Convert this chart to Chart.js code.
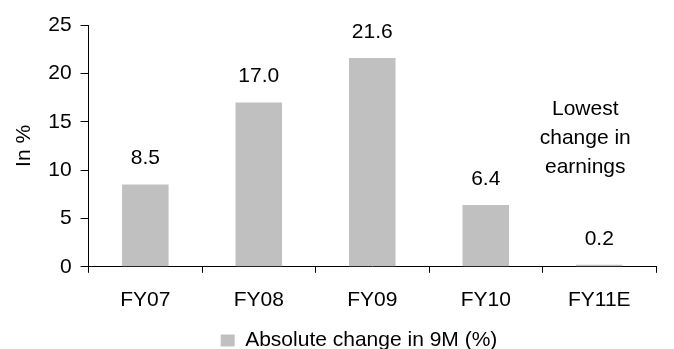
<!DOCTYPE html>
<html>
<head>
<meta charset="utf-8">
<script src="https://cdn.jsdelivr.net/npm/chart.js@4/dist/chart.umd.min.js"></script>
<style>
  html, body { margin: 0; padding: 0; background: #fff; }
  #wrap { width: 674px; height: 349px; }
</style>
</head>
<body>
<div id="wrap"><canvas id="chart"></canvas></div>
<script>
const years = ['FY07', 'FY08', 'FY09', 'FY10', 'FY11E'];
const absChange = [8.5, 17.0, 21.6, 6.4, 0.2];
const yTicks = [0, 5, 10, 15, 20, 25];
const note = ['Lowest', 'change in', 'earnings'];

const FONT = "'Liberation Sans', Arial, sans-serif";
const SIZE = 21;

// value labels over each bar + the side note
const barLabels = {
  id: 'barLabels',
  afterLayout(chart) {
    // legend sits a bit right of centre
    chart.legend.left += 25;
    chart.legend.right += 25;
  },
  afterDatasetsDraw(chart) {
    const ctx = chart.ctx;
    const meta = chart.getDatasetMeta(0);
    ctx.save();
    ctx.font = SIZE + 'px ' + FONT;
    ctx.fillStyle = '#000';
    ctx.textAlign = 'center';
    ctx.textBaseline = 'middle';
    meta.data.forEach((bar, i) => {
      ctx.fillText(absChange[i].toFixed(1), bar.x, bar.y - 26);
    });
    const last = meta.data[meta.data.length - 1];
    const y = chart.scales.y;
    note.forEach((line, i) => {
      ctx.fillText(line, last.x - 14, y.getPixelForValue(16.3) + i * 29);
    });
    ctx.restore();
  }
};

new Chart(document.getElementById('chart'), {
  type: 'bar',
  data: {
    labels: years,
    datasets: [{
      label: 'Absolute change in 9M (%)',
      data: absChange,
      backgroundColor: '#c0c0c0',
      categoryPercentage: 1,
      barPercentage: 0.41
    }]
  },
  options: {
    responsive: true,
    maintainAspectRatio: false,
    animation: false,
    layout: { padding: { top: 25, right: 18, left: 12, bottom: -12 } },
    plugins: {
      legend: {
        position: 'bottom',
        labels: {
          font: { family: FONT, size: SIZE },
          color: '#000',
          boxWidth: 14,
          boxHeight: 12,
          padding: 0
        }
      },
      tooltip: { enabled: false }
    },
    scales: {
      x: {
        afterFit: s => { s.height += 2; },
        border: { display: true, color: '#000', width: 1 },
        grid: { drawOnChartArea: false, drawTicks: true, tickLength: 6, color: '#000' },
        ticks: { color: '#000', font: { family: FONT, size: SIZE }, padding: 15 }
      },
      y: {
        min: 0,
        max: 25,
        afterBuildTicks: axis => { axis.ticks = yTicks.map(v => ({ value: v })); },
        border: { display: true, color: '#000', width: 1 },
        grid: { drawOnChartArea: false, drawTicks: true, tickLength: 8, color: '#000' },
        ticks: { color: '#000', font: { family: FONT, size: SIZE }, padding: 9 },
        title: { display: true, text: 'In %', color: '#000', font: { family: FONT, size: SIZE }, padding: { top: 0, bottom: 2 } }
      }
    }
  },
  plugins: [barLabels]
});
</script>
</body>
</html>
